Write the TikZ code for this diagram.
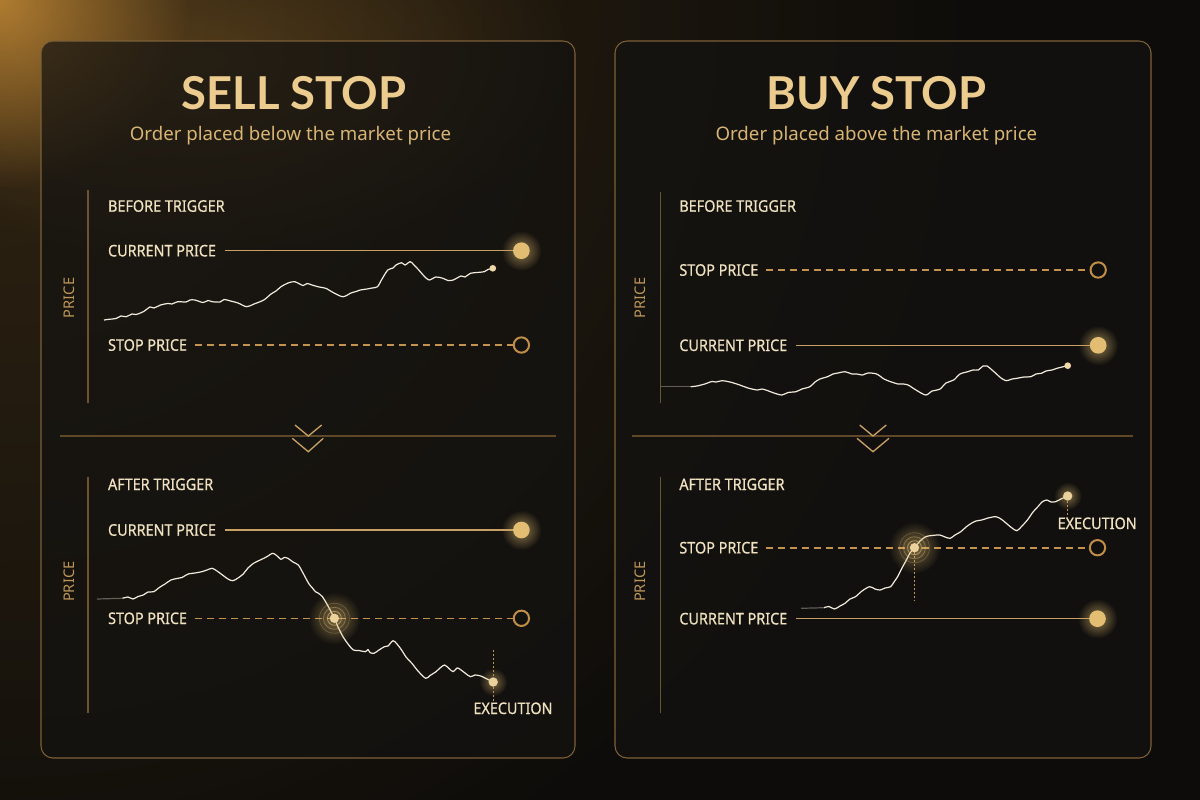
\documentclass[tikz,border=0pt]{standalone}
\usepackage{fontspec}
\setmainfont{Noto Sans}
\newfontfamily\lblfont{Noto Sans}[FakeStretch=0.9, FakeBold=0.6]
\newfontfamily\titlefont{Lato}
\usetikzlibrary{fadings}
\definecolor{bgc}{HTML}{0D0C0A}
\definecolor{panelc}{HTML}{141311}
\definecolor{borderc}{HTML}{7D6038}
\definecolor{titlec}{HTML}{EBCB8E}
\definecolor{subc}{HTML}{D9B574}
\definecolor{lblc}{HTML}{F0E2C0}
\definecolor{pricec}{HTML}{BE9758}
\definecolor{linec}{HTML}{C9A064}
\definecolor{dashc}{HTML}{C4934F}
\definecolor{circf}{HTML}{E3BE72}
\definecolor{hollowc}{HTML}{C08E48}
\definecolor{curvec}{HTML}{F2EBDD}
\definecolor{axisc}{HTML}{6A5431}
\definecolor{sepc}{HTML}{5E4828}
\definecolor{glowc}{HTML}{C48A36}
\tikzfading[name=glowfade, inner color=transparent!0, outer color=transparent!100]
\begin{document}
\begin{tikzpicture}[x=0.75pt,y=-0.75pt,
  panel/.style={draw=borderc, line width=0.8pt, rounded corners=9pt, fill=panelc, fill opacity=0.7},
  lbl/.style={anchor=west, inner sep=0pt, text=lblc, font=\lblfont\fontsize{12}{14}\selectfont},
  execlbl/.style={inner sep=0pt, text=lblc, font=\lblfont\fontsize{12}{14}\selectfont},
  pricelbl/.style={rotate=90, inner sep=0pt, text=pricec, font=\fontsize{11}{13}\selectfont},
  ttl/.style={inner sep=0pt, text=titlec, font=\titlefont\bfseries\fontsize{34}{40}\selectfont},
  sub/.style={inner sep=0pt, text=subc, font=\fontsize{14}{16}\selectfont},
  fcirc/.style={circle, fill=circf, minimum size=12.5pt, inner sep=0pt},
  hcirc/.style={circle, draw=hollowc, line width=1.5pt, minimum size=11.5pt, inner sep=0pt},
  solidln/.style={draw=linec, line width=1.1pt},
  dashln/.style={draw=dashc, line width=1.2pt, dash pattern=on 5.5pt off 3.5pt},
  axisln/.style={draw=axisc, line width=1pt},
  sepln/.style={draw=sepc, line width=0.9pt},
  chev/.style={draw=linec, line width=1pt},
  pcurve/.style={draw=curvec, line width=0.9pt, line join=round},
  tail/.style={draw=curvec, line width=0.9pt, draw opacity=0.35},
  enddot/.style={circle, fill=circf!60!white, minimum size=5pt, inner sep=0pt},
  trigdot/.style={circle, fill=circf!70!white, minimum size=7pt, inner sep=0pt},
  ring/.style={draw=circf, line width=0.6pt},
  vdot/.style={draw=dashc, line width=0.6pt, dash pattern=on 1.5pt off 1.5pt}
]
\useasboundingbox (0,0) rectangle (1200,800);
\fill[bgc] (0,0) rectangle (1200,800);
% corner glow
\fill[glowc, path fading=glowfade, fill opacity=0.2] (0,0) circle (1000);
\fill[glowc, path fading=glowfade, fill opacity=0.85] (0,0) circle (190);
\fill[glowc, path fading=glowfade, fill opacity=0.25] (200,60) ellipse (380 and 200);

% panels
\path[panel] (41,41) rectangle (575,758);
\path[panel] (615,41) rectangle (1151,758);

% ================= LEFT PANEL =================
\node[ttl] (ltitle) at (294,93.3) {SELL STOP};
\node[sub] (lsub) at (290.5,136) {Order placed below the market price};

% before
\draw[axisln] (88,190) -- (88,403);
\node[pricelbl] (lprice1) at (69.3,298) {PRICE};
\node[lbl] (lbefore) at (107.8,206) {BEFORE TRIGGER};
\node[lbl] (lcur1) at (107.8,250.7) {CURRENT PRICE};
\fill[circf, path fading=glowfade, fill opacity=0.6] (521.4,250.7) circle (20);
\node[fcirc] (lcur1c) at (521.4,250.7) {};
\draw[solidln] ([xshift=6.5pt]lcur1.east) -- (lcur1c.west);
\node[lbl] (lstop1) at (107.8,345) {STOP PRICE};
\node[hcirc] (lstop1c) at (521.4,345) {};
\draw[dashln] ([xshift=5.5pt]lstop1.east) -- (lstop1c.west);
\draw[pcurve] plot[smooth, tension=0.5] coordinates {(104,320) (108.9,319.3) (116,318.5)(121,316)(126.1,316.7)(132,314)(136,314.5)(143.3,311.7)(150,307)(154,308)(160.5,305)(168,303.5)(172,304)(177.7,301.7)(186,302)(190,300)(195,300)(203,302.5)(208,300.5)(212.2,301.7)(220,302)(224,299.5)(229.4,300.7)(238,303)(246.6,306.7)(254,304)(263.8,300)(271,294)(276,291)(281,286.7)(288,283)(294.8,281.7)(303,285.5)(307,283.5)(312,285)(319,287)(325.8,288.3)(334,293)(343,296.7)(351,293)(356,291.5)(360.2,290)(367,289)(372,288)(377.5,286.7)(382,279)(387.8,270)(393,268)(396,265)(401.6,262.7)(405,265)(410.2,261.7)(414,265)(418.8,270)(424,276)(429.1,280)(436,277)(442.9,278.3)(448,280.5)(453.2,280)(461,276)(465,277)(470.4,273.3)(477,272.5)(484.2,271.7)(488,269.5)(492.8,268.3)};
\node[enddot] (lend1) at (492.8,268.3) {};

% separator
\draw[sepln] (60,436) -- (556,436);
\draw[chev] (295,425) -- (308.3,436) -- (321.7,425);
\draw[chev] (292.3,438.3) -- (308.3,451.7) -- (323.3,438.3);

% after
\draw[axisln] (88,477) -- (88,713);
\node[pricelbl] (lprice2) at (69.3,581.7) {PRICE};
\node[lbl] (lafter) at (107.8,484.3) {AFTER TRIGGER};
\node[lbl] (lcur2) at (107.8,530) {CURRENT PRICE};
\fill[circf, path fading=glowfade, fill opacity=0.6] (521.4,530) circle (20);
\node[fcirc] (lcur2c) at (521.4,530) {};
\draw[solidln] ([xshift=6.5pt]lcur2.east) -- (lcur2c.west);
\node[lbl] (lstop2) at (107.8,618.3) {STOP PRICE};
\node[hcirc] (lstop2c) at (521.4,618.3) {};
\draw[dashln] ([xshift=5.5pt]lstop2.east) -- (lstop2c.west);
\draw[tail] (96.8,599) -- (122.6,598.3);
\draw[pcurve] plot[smooth, tension=0.5] coordinates {(122.6,598.3)(128,597)(133,599)(138,596.5)(143.3,595)(148,592)(153.6,591.7)(160,587)(165,584)(170.9,580)(177,578.5)(182,577.5)(188.1,574)(195,573)(201.8,571.7)(207,570)(212.2,568.3)(217,571)(222.5,575)(228,579)(232.8,580.7)(238,578)(243.2,574)(248,568)(253.5,563.3)(258,561)(263.8,558.3)(268,556)(272.4,553.3)(276,555)(281,559.3)(284,557.5)(287.9,558.3)(293,562)(298.3,565)(303,573)(308.6,583.3)(312,587.5)(315.5,591.7)(318,593)(322.4,596.7)(328,606)(334.4,618.3)(338,627)(343,636.7)(348,644)(353.4,650)(359,650.5)(365.4,651.7)(368,649.5)(370,652.5)(374,653.3)(379,650)(384.4,646.7)(388,646)(393,640.7)(397,644)(401.6,650)(406,657)(411.9,663.3)(418,671)(425.7,678.3)(430,675.5)(436,671.7)(440,668)(444.6,665)(449,668.5)(453.2,671.7)(457,668)(460.1,669.3)(465,673)(470.4,676.7)(475,675)(480.8,676)(487,679)(493.2,682)};
% trigger
\fill[circf, path fading=glowfade, fill opacity=0.5] (334.4,618.3) circle (26);
\draw[ring, draw opacity=0.25] (334.4,618.3) circle (15);
\draw[ring, draw opacity=0.4] (334.4,618.3) circle (11);
\draw[ring, draw opacity=0.6] (334.4,618.3) circle (7);
\node[trigdot] (ltrig) at (334.4,618.3) {};
% execution
\coordinate (lexectop) at (493.2,650);
\fill[circf, path fading=glowfade, fill opacity=0.5] (493.2,682) circle (14);
\node[trigdot] (lexec) at (493.2,682) {};
\node[execlbl] (lexeclbl) at (513,708.3) {EXECUTION};
\draw[vdot] (lexectop) -- (lexec.north);
\draw[vdot] (lexec.south) -- (lexeclbl.north -| lexec.south);

% ================= RIGHT PANEL =================
\node[ttl] (rtitle) at (876.5,93.3) {BUY STOP};
\node[sub] (rsub) at (876.4,136) {Order placed above the market price};

% before
\draw[axisln] (660.2,192) -- (660.2,403);
\node[pricelbl] (rprice1) at (639.8,298) {PRICE};
\node[lbl] (rbefore) at (679.1,206) {BEFORE TRIGGER};
\node[lbl] (rstop1) at (679.1,270) {STOP PRICE};
\node[hcirc] (rstop1c) at (1098.2,270) {};
\draw[dashln] ([xshift=5.5pt]rstop1.east) -- (rstop1c.west);
\node[lbl] (rcur1) at (679.1,345.3) {CURRENT PRICE};
\fill[circf, path fading=glowfade, fill opacity=0.6] (1098.2,345.3) circle (20);
\node[fcirc] (rcur1c) at (1098.2,345.3) {};
\draw[solidln] ([xshift=6.5pt]rcur1.east) -- (rcur1c.west);
\draw[tail] (660.9,386.7) -- (690.7,386.7);
\draw[pcurve] plot[smooth, tension=0.5] coordinates {(690.7,386.7)(697,386)(704.7,384)(712,381.5)(716,382)(722.2,380.7)(730,382)(739.8,385)(748,388)(757.3,390)(762,389)(767.8,390.7)(774,393)(781.9,395)(788,392.5)(795.9,391.7)(802,389)(809.9,386.7)(815,382)(820,379)(827.5,376.7)(833,374)(838,373)(845,371.7)(852,374)(857,374)(862.5,375)(868,373)(876.6,374)(884,379)(890.6,381.7)(898,384)(903,384)(908.1,385)(916,390)(925.7,395)(932,391)(939.7,389.3)(946,383)(953.7,380)(960,374)(967.8,371.7)(973,370)(978.3,370)(983,366)(987.1,366)(992,370)(995.8,373.3)(1001,378)(1006.3,380.7)(1012,379)(1016.9,378.3)(1024,377)(1030.9,376.7)(1036,374)(1041.4,373.3)(1046,371)(1051.9,370)(1058,368)(1062,367)(1067.7,365.7)};
\node[enddot] (rend1) at (1067.7,365.7) {};

% separator
\draw[sepln] (632,436) -- (1133,436);
\draw[chev] (859.7,425) -- (873,436) -- (886.3,425);
\draw[chev] (857,438.3) -- (873,451.7) -- (889,438.3);

% after
\draw[axisln] (660.2,477) -- (660.2,713);
\node[pricelbl] (rprice2) at (639.8,581.7) {PRICE};
\node[lbl] (rafter) at (679.1,484.3) {AFTER TRIGGER};
\node[lbl] (rstop2) at (679.1,547.7) {STOP PRICE};
\node[hcirc] (rstop2c) at (1097.5,547.7) {};
\draw[dashln] ([xshift=5.5pt]rstop2.east) -- (rstop2c.west);
\node[lbl] (rcur2) at (679.1,618.7) {CURRENT PRICE};
\fill[circf, path fading=glowfade, fill opacity=0.6] (1097.5,618.7) circle (20);
\node[fcirc] (rcur2c) at (1097.5,618.7) {};
\draw[solidln] ([xshift=6.5pt]rcur2.east) -- (rcur2c.west);
\draw[tail] (801.2,608.3) -- (824,607.7);
\draw[pcurve] plot[smooth, tension=0.5] coordinates {(824,607.7)(829,606.5)(834.5,609)(840,606)(845,603.3)(850,599)(855.5,596.7)(862,591)(869.6,586.7)(875,589)(880.1,590)(885,588)(890.6,586.7)(894,582)(897.6,576.7)(902,568)(906.4,560)(910,553)(914.5,547.7)(920,541)(925.7,536.7)(932,535.5)(939.7,535)(945,537)(950.2,538.3)(955,535)(960.8,531.7)(966,527)(971.3,523.3)(976,521)(981.8,520)(988,518)(995.8,516.7)(1001,519)(1006.3,523.3)(1012,528)(1016.9,530.7)(1022,526)(1027.4,520)(1033,512)(1037.9,506.7)(1042,502)(1046.7,500)(1051,502)(1055.5,501.7)(1061,499)(1067.7,496)};
% trigger
\coordinate (rtrigbot) at (914.5,600);
\draw[vdot] (914.5,547.7) -- (rtrigbot);
\fill[circf, path fading=glowfade, fill opacity=0.5] (914.5,547.7) circle (26);
\draw[ring, draw opacity=0.25] (914.5,547.7) circle (15);
\draw[ring, draw opacity=0.4] (914.5,547.7) circle (11);
\draw[ring, draw opacity=0.6] (914.5,547.7) circle (7);
\node[trigdot] (rtrig) at (914.5,547.7) {};
% execution
\fill[circf, path fading=glowfade, fill opacity=0.5] (1067.7,496) circle (14);
\node[trigdot] (rexec) at (1067.7,496) {};
\node[execlbl] (rexeclbl) at (1097.2,523.3) {EXECUTION};
\draw[vdot] (rexec.south) -- (rexeclbl.north -| rexec.south);
\end{tikzpicture}
\end{document}
